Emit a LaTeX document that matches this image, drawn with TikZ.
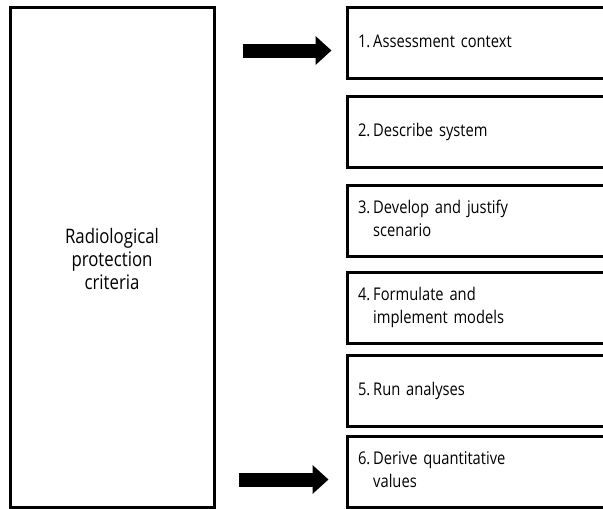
\documentclass[tikz,border=0pt]{standalone}
\usepackage{fontspec}
\setmainfont{Open Sans}[FakeStretch=0.84, WordSpace=0.5]
\usetikzlibrary{arrows.meta}

\tikzset{
  frame/.style={draw, line width=3pt, rectangle, inner sep=0pt},
  stepbox/.style={frame, minimum width=270pt, minimum height=71pt,
    text width=248pt, align=left, font=\fontsize{17.5}{23}\selectfont},
  bigarrow/.style={line width=14pt,
    -{Triangle[length=16pt,width=28pt]}},
}
\newcommand{\steptext}[2]{\begin{tabular}{@{}l@{\,}l@{}}#1 & #2\end{tabular}}

\begin{document}
\begin{tikzpicture}[x=1pt,y=-1pt]
\useasboundingbox (0,0) rectangle (603,509);
\clip (0,0) rectangle (603,509);

% criteria column
\node[frame, minimum width=204pt, minimum height=500pt, align=center,
  font=\fontsize{20}{23}\selectfont] (crit) at (112,257)
  {\\[-4pt]Radiological\\protection\\criteria};

% the six steps
\node[stepbox] (s1) at (482,42.5) {\steptext{1.}{Assessment context}};
\node[stepbox] (s2) at (482,132) {\steptext{2.}{Describe system}};
\node[stepbox] (s3) at (482,220.5) {\steptext{3.}{Develop and justify\\ & scenario}};
\node[stepbox] (s4) at (482,307.5) {\steptext{4.}{Formulate and\\ & implement models}};
\node[stepbox] (s5) at (482,390.5) {\steptext{5.}{Run analyses}};
\node[stepbox] (s6) at (482,471.5) {\steptext{6.}{Derive quantitative\\ & values}};

% arrows
\draw[bigarrow, shorten <=27pt, shorten >=14pt]
  ([yshift=-8pt]crit.east |- s1.west) -- ([yshift=-8pt]s1.west);
\draw[bigarrow, shorten <=23pt, shorten >=17pt]
  ([yshift=-8pt]crit.east |- s6.west) -- ([yshift=-8pt]s6.west);
\end{tikzpicture}
\end{document}
